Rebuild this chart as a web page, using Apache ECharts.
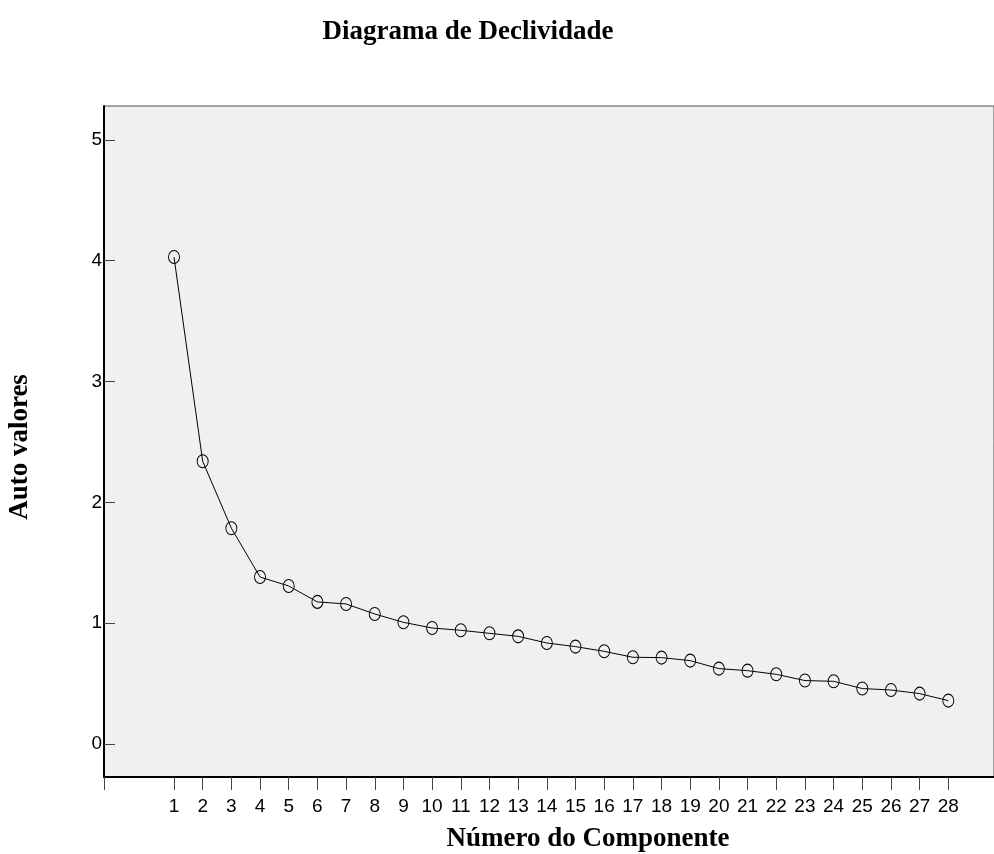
<!DOCTYPE html>
<html>
<head>
<meta charset="utf-8">
<script src="https://cdn.jsdelivr.net/npm/echarts@6/dist/echarts.min.js"></script>
<style>
html,body{margin:0;padding:0;background:#fff;}
#chart{width:994px;height:854px;}
</style>
</head>
<body>
<div id="chart"></div>
<script>
var components = [1,2,3,4,5,6,7,8,9,10,11,12,13,14,15,16,17,18,19,20,21,22,23,24,25,26,27,28];
var eigenvalues = [4.03, 2.34, 1.786, 1.382, 1.308, 1.176, 1.159, 1.076, 1.007, 0.96, 0.941, 0.916, 0.891, 0.836, 0.806, 0.767, 0.718, 0.715, 0.69, 0.624, 0.607, 0.577, 0.525, 0.519, 0.459, 0.447, 0.417, 0.359];
var yTicks = [0,1,2,3,4,5];
var titleText = 'Diagrama de Declividade';
var xName = 'Número do Componente';
var yName = 'Auto valores';

var xMin = -1.441, xMax = 29.593;
var yMin = -0.273, yMax = 5.28;

var chart = echarts.init(document.getElementById('chart'), null, {renderer:'canvas'});
var serif = 'Liberation Serif, Times New Roman, serif';
var sans = 'Liberation Sans, Arial, sans-serif';

chart.setOption({
  animation: false,
  backgroundColor: '#ffffff',
  grid: {left:104, top:106, right:-1, bottom:77, show:true, backgroundColor:'#f0f0f0', borderColor:'#555', borderWidth:1},
  xAxis: {
    type:'value', min:xMin, max:xMax,
    axisLine:{show:true, onZero:false, lineStyle:{color:'#000', width:2}},
    axisTick:{show:true, inside:false, length:13, customValues:[xMin].concat(components), lineStyle:{color:'#444', width:1}},
    axisLabel:{show:true, customValues:components, margin:20, color:'#000', fontSize:19, fontFamily:sans},
    splitLine:{show:false}
  },
  yAxis: {
    type:'value', min:yMin, max:yMax,
    axisLine:{show:true, onZero:false, lineStyle:{color:'#000', width:2}},
    axisTick:{show:true, inside:true, length:11, customValues:yTicks, lineStyle:{color:'#444', width:1}},
    axisLabel:{show:true, customValues:yTicks, margin:2, color:'#000', fontSize:19, fontFamily:sans},
    splitLine:{show:false}
  },
  graphic: [
    {type:'text', x:468, y:32, style:{text:titleText, font:'bold 27px ' + serif, fill:'#000', textAlign:'center', textVerticalAlign:'middle'}},
    {type:'text', x:588, y:839, style:{text:xName, font:'bold 27px ' + serif, fill:'#000', textAlign:'center', textVerticalAlign:'middle'}},
    {type:'text', x:20, y:447, rotation:Math.PI/2, style:{text:yName, font:'bold 27px ' + serif, fill:'#000', textAlign:'center', textVerticalAlign:'middle'}}
  ],
  series: [{
    type:'line',
    data: components.map(function(c,i){return [c, eigenvalues[i]];}),
    symbol:'circle', symbolSize:[11,13],
    lineStyle:{color:'#000', width:1},
    itemStyle:{color:'rgba(0,0,0,0)', borderColor:'#000', borderWidth:1},
    emphasis:{disabled:true}
  }]
});
</script>
</body>
</html>
